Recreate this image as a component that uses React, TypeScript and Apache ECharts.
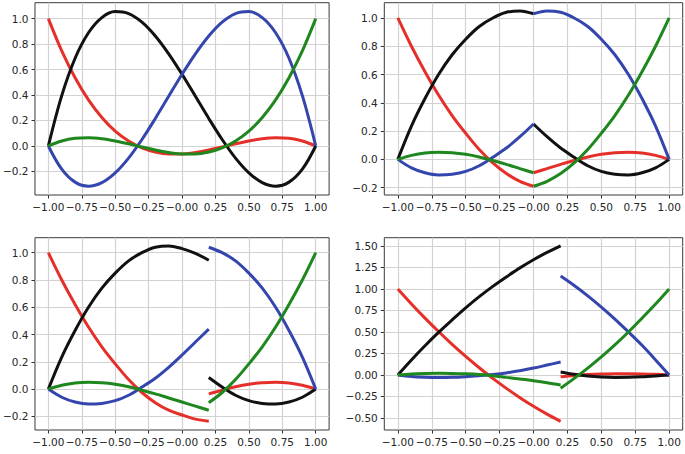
import React, { useEffect, useRef } from "react";
import * as echarts from "echarts";

// Tick values and labels
const xTickValues = [-1, -0.75, -0.5, -0.25, 0, 0.25, 0.5, 0.75, 1];
const xTickLabels = ["−1.00", "−0.75", "−0.50", "−0.25", "−0.00", "0.25", "0.50", "0.75", "1.00"];
const yTickValues = [-0.2, 0, 0.2, 0.4, 0.6, 0.8, 1.0];
const yTickLabels = ["−0.2", "0.0", "0.2", "0.4", "0.6", "0.8", "1.0"];
const yTickValuesBR = [-0.5, -0.25, 0, 0.25, 0.5, 0.75, 1.0, 1.25, 1.5];
const yTickLabelsBR = ["−0.50", "−0.25", "0.00", "0.25", "0.50", "0.75", "1.00", "1.25", "1.50"];

// Sample x positions
const xFull = [-1, -0.9, -0.8, -0.7, -0.6, -0.5, -0.4, -0.3, -0.2, -0.1, 0, 0.1, 0.2, 0.3, 0.4, 0.5, 0.6, 0.7, 0.8, 0.9, 1];
const xLeftTR = [-1, -0.9, -0.8, -0.7, -0.6, -0.5, -0.4, -0.3, -0.2, -0.1, 0];
const xRightTR = [0, 0.1, 0.2, 0.3, 0.4, 0.5, 0.6, 0.7, 0.8, 0.9, 1];
const xLeftB = [-1, -0.9, -0.8, -0.7, -0.6, -0.5, -0.4, -0.3, -0.2, -0.1, 0, 0.1, 0.2];
const xRightB = [0.2, 0.3, 0.4, 0.5, 0.6, 0.7, 0.8, 0.9, 1];

// Top-left panel
const tlRed = [1.0, 0.747, 0.536, 0.362, 0.224, 0.117, 0.039, -0.015, -0.048, -0.063, -0.063, -0.051, -0.032, -0.008, 0.017, 0.039, 0.056, 0.064, 0.06, 0.039, 0];
const tlBlack = [0, 0.395, 0.689, 0.889, 1.008, 1.055, 1.04, 0.973, 0.864, 0.724, 0.563, 0.39, 0.216, 0.051, -0.095, -0.211, -0.288, -0.316, -0.284, -0.182, 0];
const tlBlue = [0, -0.182, -0.284, -0.316, -0.288, -0.211, -0.095, 0.051, 0.216, 0.39, 0.563, 0.724, 0.864, 0.973, 1.04, 1.055, 1.008, 0.889, 0.689, 0.395, 0];
const tlGreen = [0, 0.039, 0.06, 0.064, 0.056, 0.039, 0.017, -0.008, -0.032, -0.051, -0.063, -0.063, -0.048, -0.015, 0.039, 0.117, 0.224, 0.362, 0.536, 0.747, 1.0];

// Top-right panel
const trRedL = [1.0, 0.8, 0.62, 0.455, 0.31, 0.185, 0.07, -0.025, -0.1, -0.155, -0.19];
const trBlackL = [0, 0.235, 0.43, 0.6, 0.74, 0.85, 0.94, 1.0, 1.04, 1.05, 1.03];
const trBlueL = [0, -0.06, -0.095, -0.11, -0.105, -0.085, -0.045, 0.015, 0.08, 0.16, 0.25];
const trGreenL = [0, 0.028, 0.045, 0.05, 0.047, 0.036, 0.017, -0.008, -0.035, -0.065, -0.095];
const trRedR = [-0.095, -0.065, -0.035, -0.008, 0.017, 0.036, 0.047, 0.05, 0.045, 0.028, 0];
const trBlackR = [0.25, 0.16, 0.08, 0.015, -0.045, -0.085, -0.105, -0.11, -0.095, -0.06, 0];
const trBlueR = [1.03, 1.05, 1.04, 1.0, 0.94, 0.85, 0.74, 0.6, 0.43, 0.235, 0];
const trGreenR = [-0.19, -0.155, -0.1, -0.025, 0.07, 0.185, 0.31, 0.455, 0.62, 0.8, 1.0];

// Bottom-left panel
const blRedL = [1.0, 0.8, 0.62, 0.455, 0.31, 0.185, 0.07, -0.025, -0.1, -0.155, -0.19, -0.22, -0.235];
const blBlackL = [0, 0.235, 0.43, 0.6, 0.74, 0.85, 0.94, 1.0, 1.04, 1.05, 1.03, 0.995, 0.945];
const blBlueL = [0, -0.06, -0.095, -0.11, -0.105, -0.085, -0.045, 0.015, 0.08, 0.16, 0.25, 0.345, 0.44];
const blGreenL = [0, 0.028, 0.045, 0.05, 0.047, 0.036, 0.017, -0.008, -0.035, -0.065, -0.095, -0.125, -0.155];
const blRedR = [-0.035, -0.008, 0.017, 0.036, 0.047, 0.05, 0.045, 0.028, 0];
const blBlackR = [0.085, 0.015, -0.045, -0.085, -0.105, -0.11, -0.095, -0.06, 0];
const blBlueR = [1.04, 1.0, 0.94, 0.85, 0.74, 0.6, 0.43, 0.235, 0];
const blGreenR = [-0.1, -0.025, 0.07, 0.185, 0.31, 0.455, 0.62, 0.8, 1.0];

// Bottom-right panel
const brRedL = [1.0, 0.826, 0.661, 0.505, 0.356, 0.216, 0.084, -0.04, -0.156, -0.264, -0.364, -0.456, -0.54];
const brBlackL = [0, 0.175, 0.34, 0.495, 0.64, 0.78, 0.91, 1.03, 1.14, 1.245, 1.34, 1.425, 1.5];
const brBlueL = [0, -0.018, -0.027, -0.03, -0.028, -0.02, -0.008, 0.006, 0.024, 0.05, 0.08, 0.115, 0.15];
const brGreenL = [0, 0.012, 0.018, 0.02, 0.018, 0.013, 0.005, -0.008, -0.028, -0.047, -0.067, -0.09, -0.117];
const brRedR = [-0.022, -0.005, 0.005, 0.011, 0.014, 0.014, 0.012, 0.007, 0];
const brBlackR = [0.035, 0.008, -0.012, -0.024, -0.029, -0.028, -0.022, -0.012, 0];
const brBlueR = [1.15, 1.04, 0.92, 0.79, 0.65, 0.5, 0.345, 0.175, 0];
const brGreenR = [-0.155, -0.04, 0.08, 0.21, 0.35, 0.5, 0.66, 0.825, 1.0];

const RED = "#e5302a";
const BLACK = "#111111";
const BLUE = "#3545ae";
const GREEN = "#1e871e";

const pair = (xs: number[], ys: number[]) => xs.map((x, i) => [x, ys[i]]);

const fmt = (vals: number[], labels: string[]) => (v: number) => {
  let best = 0;
  for (let i = 1; i < vals.length; i++) {
    if (Math.abs(vals[i] - v) < Math.abs(vals[best] - v)) best = i;
  }
  return labels[best];
};

const line = (gi: number, xs: number[], ys: number[], color: string, z: number) => ({
  type: "line",
  xAxisIndex: gi,
  yAxisIndex: gi,
  data: pair(xs, ys),
  showSymbol: false,
  symbol: "none",
  smooth: 0.35,
  silent: true,
  z,
  lineStyle: { color, width: 3, cap: "butt" },
  itemStyle: { color },
});

const labelStyle = {
  color: "#262626",
  fontFamily: "DejaVu Sans",
  fontSize: 10.5,
  interval: 0,
  showMinLabel: true,
  showMaxLabel: true,
  hideOverlap: false,
};

const mkX = (gi: number) => ({
  type: "value",
  gridIndex: gi,
  min: -1.1,
  max: 1.1,
  axisLine: { show: false, onZero: false },
  axisTick: { show: true, length: 3.5, customValues: xTickValues, lineStyle: { color: "#333", width: 1 } },
  axisLabel: { ...labelStyle, customValues: xTickValues, formatter: fmt(xTickValues, xTickLabels), margin: 6 },
  splitLine: { show: true, lineStyle: { color: "#d2d2d2", width: 1.2 } },
});

const mkY = (gi: number, min: number, max: number, vals: number[], labels: string[]) => ({
  type: "value",
  gridIndex: gi,
  min,
  max,
  axisLine: { show: false, onZero: false },
  axisTick: { show: true, length: 3.5, customValues: vals, lineStyle: { color: "#333", width: 1 } },
  axisLabel: { ...labelStyle, customValues: vals, formatter: fmt(vals, labels), margin: 6.5 },
  splitLine: { show: true, lineStyle: { color: "#d2d2d2", width: 1.2 } },
});

const gridBase = { show: true, borderColor: "#3a3a3a", borderWidth: 1, backgroundColor: "transparent", containLabel: false };

export default function App() {
  const ref = useRef<HTMLDivElement>(null);
  useEffect(() => {
    if (!ref.current) return;
    const chart = echarts.init(ref.current, null, { renderer: "svg" });
    const option: any = {
      animation: false,
      backgroundColor: "#ffffff",
      grid: [
        { ...gridBase, left: 30.7, top: 2.7, width: 298.4, height: 192.3 },
        { ...gridBase, left: 384.3, top: 2.7, width: 298.4, height: 192.3 },
        { ...gridBase, left: 30.7, top: 237.7, width: 298.4, height: 192.3 },
        { ...gridBase, left: 384.3, top: 237.7, width: 298.4, height: 192.3 },
      ],
      xAxis: [mkX(0), mkX(1), mkX(2), mkX(3)],
      yAxis: [
        mkY(0, -0.385, 1.125, yTickValues, yTickLabels),
        mkY(1, -0.252, 1.108, yTickValues, yTickLabels),
        mkY(2, -0.3, 1.11, yTickValues, yTickLabels),
        mkY(3, -0.64, 1.596, yTickValuesBR, yTickLabelsBR),
      ],
      series: [
        line(0, xFull, tlRed, RED, 2),
        line(0, xFull, tlBlack, BLACK, 3),
        line(0, xFull, tlBlue, BLUE, 4),
        line(0, xFull, tlGreen, GREEN, 5),

        line(1, xLeftTR, trRedL, RED, 2),
        line(1, xRightTR, trRedR, RED, 2),
        line(1, xLeftTR, trBlackL, BLACK, 3),
        line(1, xRightTR, trBlackR, BLACK, 3),
        line(1, xLeftTR, trBlueL, BLUE, 4),
        line(1, xRightTR, trBlueR, BLUE, 4),
        line(1, xLeftTR, trGreenL, GREEN, 5),
        line(1, xRightTR, trGreenR, GREEN, 5),

        line(2, xLeftB, blRedL, RED, 2),
        line(2, xRightB, blRedR, RED, 2),
        line(2, xLeftB, blBlackL, BLACK, 3),
        line(2, xRightB, blBlackR, BLACK, 3),
        line(2, xLeftB, blBlueL, BLUE, 4),
        line(2, xRightB, blBlueR, BLUE, 4),
        line(2, xLeftB, blGreenL, GREEN, 5),
        line(2, xRightB, blGreenR, GREEN, 5),

        line(3, xLeftB, brRedL, RED, 2),
        line(3, xRightB, brRedR, RED, 2),
        line(3, xLeftB, brBlackL, BLACK, 3),
        line(3, xRightB, brBlackR, BLACK, 3),
        line(3, xLeftB, brBlueL, BLUE, 4),
        line(3, xRightB, brBlueR, BLUE, 4),
        line(3, xLeftB, brGreenL, GREEN, 5),
        line(3, xRightB, brGreenR, GREEN, 5),
      ],
    };
    chart.setOption(option);
    return () => chart.dispose();
  }, []);
  return (
    <div
      ref={ref}
      style={{ position: "absolute", left: 0, top: 0, width: 685, height: 454, background: "#fff" }}
    />
  );
}
